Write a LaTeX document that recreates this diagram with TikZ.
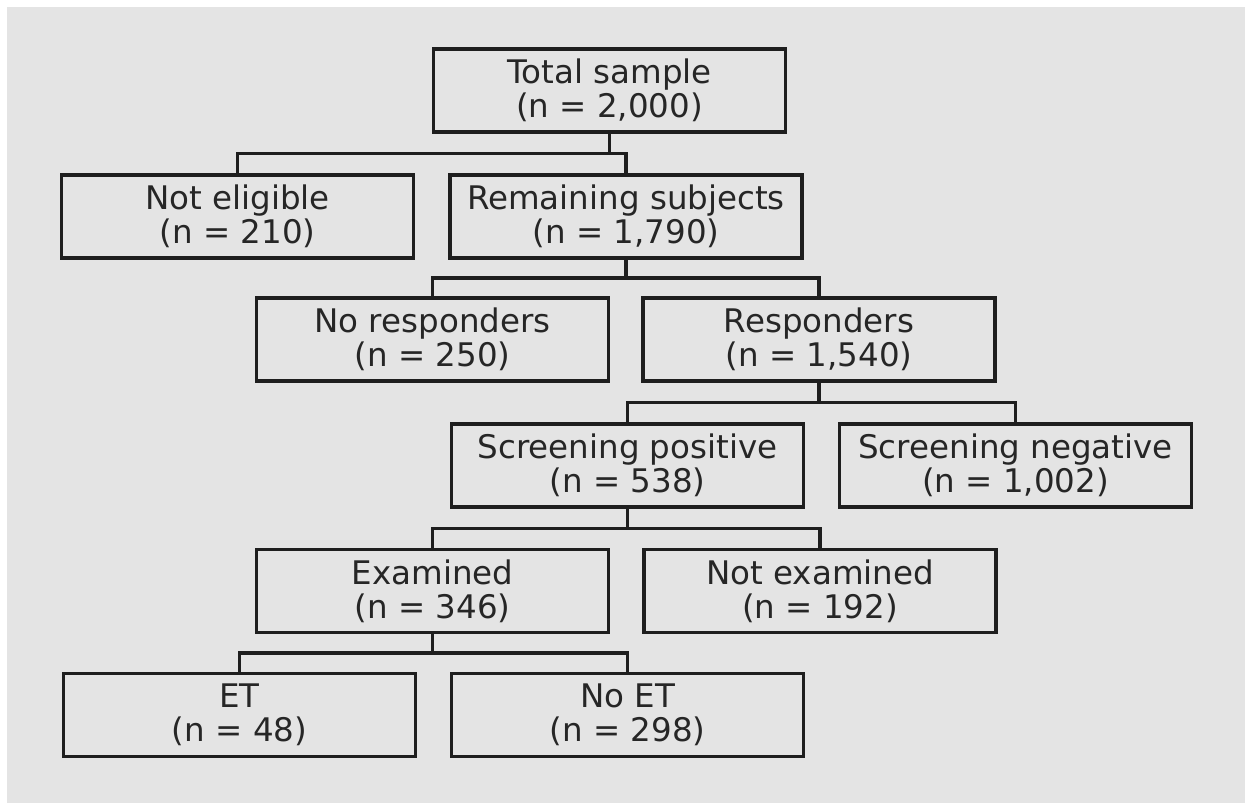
\documentclass[tikz,border=0pt]{standalone}
\usepackage{fontspec}
\setmainfont{DejaVu Sans}
\usetikzlibrary{calc}
\definecolor{bgc}{HTML}{E4E4E4}
\definecolor{linec}{HTML}{1E1E1E}
\definecolor{textc}{HTML}{262626}
\tikzset{
  box/.style={draw=linec, line width=3.2pt, fill=bgc, minimum width=352pt,
    minimum height=83pt, inner sep=0pt, align=center, text=textc,
    font=\fontsize{32.5}{34}\selectfont},
  conn/.style={draw=linec, line width=3.2pt}
}
\begin{document}
\begin{tikzpicture}[x=1pt,y=-1pt]
\useasboundingbox (0,0) rectangle (1245,803);
\fill[white] (0,0) rectangle (1245,803);
\fill[bgc] (7,7) rectangle (1255,813);
\node[box] (total)  at (609.5,90.5)  {Total sample\\(n = 2,000)};
\node[box] (noelig) at (237.5,216.5) {Not eligible\\(n = 210)};
\node[box] (remain) at (626,216.5)   {Remaining subjects\\(n = 1,790)};
\node[box] (noresp) at (432.5,339.5) {No responders\\(n = 250)};
\node[box] (resp)   at (819,339.5)   {Responders\\(n = 1,540)};
\node[box] (scrpos) at (627.5,465.5) {Screening positive\\(n = 538)};
\node[box] (scrneg) at (1015.5,465.5){Screening negative\\(n = 1,002)};
\node[box] (exam)   at (432.5,591)   {Examined\\(n = 346)};
\node[box] (noexam) at (820,591)     {Not examined\\(n = 192)};
\node[box] (et)     at (239.5,715)   {ET\\(n = 48)};
\node[box] (noet)   at (627.5,715)   {No ET\\(n = 298)};
\foreach \p/\c in {total/noelig,total/remain,remain/noresp,remain/resp,
  resp/scrpos,resp/scrneg,scrpos/exam,scrpos/noexam,exam/et,exam/noet}{
  \draw[conn] (\p.south) |- ($(\p.south)!.5!(\c.north)$) -| (\c.north);
}
\end{tikzpicture}
\end{document}
